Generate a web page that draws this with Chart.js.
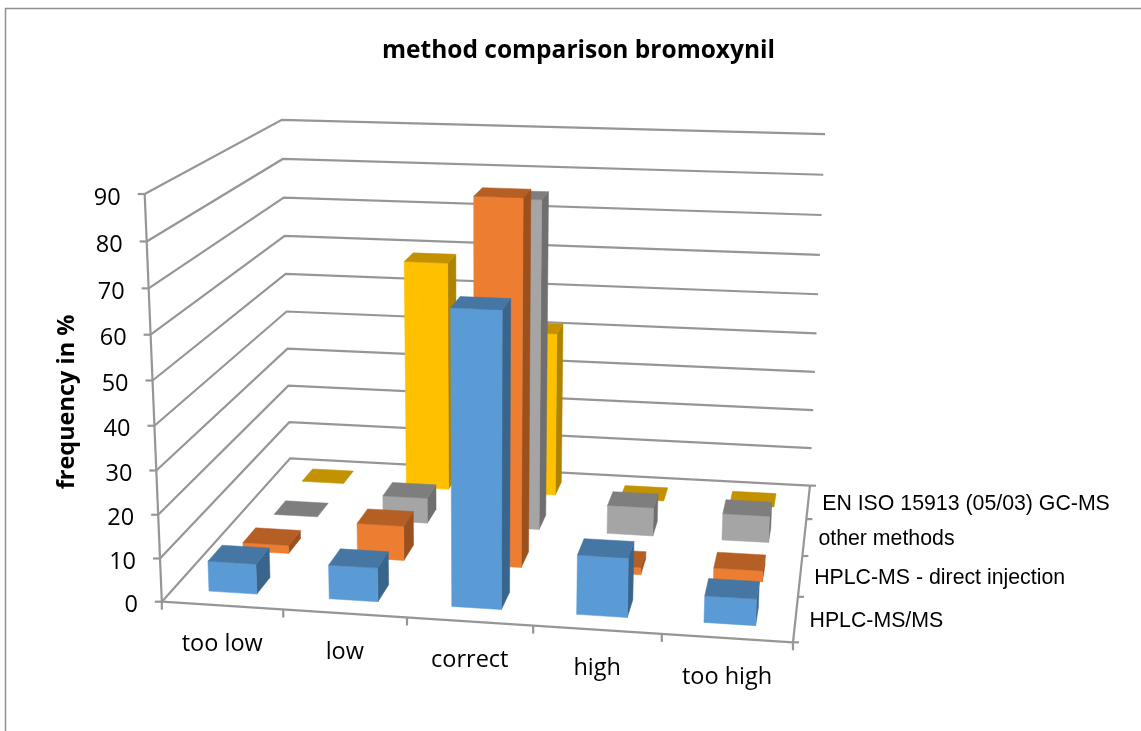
<!DOCTYPE html>
<html>
<head>
<meta charset="utf-8">
<title>method comparison bromoxynil</title>
<style>
  html, body { margin: 0; padding: 0; background: #fff; }
  canvas { display: block; }
</style>
<script src="https://cdn.jsdelivr.net/npm/chart.js@4"></script>
</head>
<body>
<canvas id="chart" width="1141" height="731"></canvas>
<script>
const titleText = 'method comparison bromoxynil';
const valueAxisTitle = 'frequency in %';
const categories = ['too low', 'low', 'correct', 'high', 'too high'];
const seriesNames = ['HPLC-MS/MS', 'HPLC-MS - direct injection', 'other methods', 'EN ISO 15913 (05/03) GC-MS'];
const valueTicks = [0, 10, 20, 30, 40, 50, 60, 70, 80, 90];

const hplcMsMs = [7, 7.8, 66.5, 13.5, 6];
const hplcDirect = [2, 8.3, 85.3, 1.7, 2.6];
const otherMethods = [0, 6.3, 80, 7, 6.5];
const enIso = [0, 58.5, 41.7, 0, 0];

const frontColors = ['#5B9BD5', '#ED7D31', '#A5A5A5', '#FFC000'];
const topColors = ['#4676A3', '#B55F25', '#7E7E7E', '#C39200'];
const sideColors = ['#39658D', '#9A511F', '#6F6F6F', '#AD8300'];

const lineColor = '#969696';
const labelFont = '"Open Sans"';
const seriesFont = '"Liberation Sans"';

// where the corners of the 3d box land on the page: [across, depth, up, pageX, pageY]
const boxCorners = [
  [0, 0, 0, 162, 602],
  [1, 0, 0, 793, 642],
  [1, 1, 0, 810, 486],
  [0, 1, 0, 290, 458],
  [0, 0, 1, 144.5, 194],
  [0, 1, 1, 282, 120],
  [1, 1, 1, 825, 134]
];

// least squares fit of the 3x4 projection matrix (last entry fixed to 1)
function fitProjection(points) {
  const n = 11;
  const A = [];
  for (let i = 0; i < n; i++) A.push(new Array(n + 1).fill(0));
  const addRow = (row, rhs) => {
    for (let i = 0; i < n; i++) {
      for (let j = 0; j < n; j++) A[i][j] += row[i] * row[j];
      A[i][n] += row[i] * rhs;
    }
  };
  points.forEach(([u, v, w, px, py]) => {
    const x = px / 1000, y = py / 1000;
    addRow([u, v, w, 1, 0, 0, 0, 0, -x * u, -x * v, -x * w], x);
    addRow([0, 0, 0, 0, u, v, w, 1, -y * u, -y * v, -y * w], y);
  });
  for (let c = 0; c < n; c++) {
    let best = c;
    for (let r = c + 1; r < n; r++) if (Math.abs(A[r][c]) > Math.abs(A[best][c])) best = r;
    [A[c], A[best]] = [A[best], A[c]];
    for (let r = 0; r < n; r++) {
      if (r === c) continue;
      const f = A[r][c] / A[c][c];
      for (let k = c; k <= n; k++) A[r][k] -= f * A[c][k];
    }
  }
  return A.map((row, i) => row[n] / row[i]);
}

const P = fitProjection(boxCorners);

function project(u, v, w) {
  const t = P[8] * u + P[9] * v + P[10] * w + 1;
  return {
    x: 1000 * (P[0] * u + P[1] * v + P[2] * w + P[3]) / t,
    y: 1000 * (P[4] * u + P[5] * v + P[6] * w + P[7]) / t
  };
}

// position along a hidden chart scale, 0..1
const acrossAt = (chart, i) => {
  const s = chart.scales.x;
  return (s.getPixelForValue(i) - s.left) / s.width;
};
const depthAt = (chart, i) => {
  const s = chart.scales.depth;
  return (s.getPixelForValue(i) - s.left) / s.width;
};
const upAt = (chart, value) => {
  const s = chart.scales.y;
  return (s.bottom - s.getPixelForValue(value)) / s.height;
};

function line(ctx, a, b) {
  ctx.beginPath();
  ctx.moveTo(a.x, a.y);
  ctx.lineTo(b.x, b.y);
  ctx.stroke();
}

function face(ctx, points, color) {
  ctx.fillStyle = color;
  ctx.strokeStyle = color;
  ctx.lineWidth = 0.5;
  ctx.beginPath();
  points.forEach((p, i) => (i ? ctx.lineTo(p.x, p.y) : ctx.moveTo(p.x, p.y)));
  ctx.closePath();
  ctx.fill();
  ctx.stroke();
}

function drawFrame(chart) {
  const ctx = chart.ctx;
  ctx.save();

  // outer chart border, only top and left show
  ctx.strokeStyle = '#909090';
  ctx.lineWidth = 1.5;
  ctx.beginPath();
  ctx.moveTo(5.5, 731);
  ctx.lineTo(5.5, 8.5);
  ctx.lineTo(1141, 8.5);
  ctx.stroke();

  ctx.strokeStyle = lineColor;
  ctx.lineWidth = 2.2;

  // value gridlines along the left wall and back wall
  valueTicks.forEach((tick) => {
    const w = upAt(chart, tick);
    const front = project(0, 0, w);
    const corner = project(0, 1, w);
    const end = project(1, 1, w);
    ctx.beginPath();
    ctx.moveTo(front.x, front.y);
    ctx.lineTo(corner.x, corner.y);
    ctx.lineTo(end.x, end.y);
    ctx.stroke();
    line(ctx, front, { x: front.x - 7, y: front.y });
  });

  // value axis and floor edges
  line(ctx, project(0, 0, 0), project(0, 0, 1));
  line(ctx, project(0, 0, 0), project(1, 0, 0));
  line(ctx, project(1, 0, 0), project(1, 1, 0));

  // category ticks under the front edge
  for (let i = 0; i <= categories.length; i++) {
    const p = project(i / categories.length, 0, 0);
    line(ctx, p, { x: p.x, y: p.y + 8 });
  }
  // series ticks on the right edge
  for (let i = 0; i <= seriesNames.length; i++) {
    const p = project(1, i / seriesNames.length, 0);
    line(ctx, p, { x: p.x + 6, y: p.y });
  }
  ctx.restore();
}

function drawSeries(chart, index) {
  const ctx = chart.ctx;
  const values = chart.data.datasets[index].data;
  const halfAcross = 0.2 / categories.length;
  const halfDepth = 0.2 / seriesNames.length;
  const v = depthAt(chart, index);
  const v0 = v - halfDepth, v1 = v + halfDepth;
  ctx.save();
  values.forEach((value, i) => {
    const u = acrossAt(chart, i);
    const u0 = u - halfAcross, u1 = u + halfAcross;
    const w = upAt(chart, value);
    if (value > 0) {
      face(ctx, [project(u1, v0, 0), project(u1, v1, 0), project(u1, v1, w), project(u1, v0, w)], sideColors[index]);
      face(ctx, [project(u0, v0, 0), project(u1, v0, 0), project(u1, v0, w), project(u0, v0, w)], frontColors[index]);
    }
    face(ctx, [project(u0, v0, w), project(u1, v0, w), project(u1, v1, w), project(u0, v1, w)], topColors[index]);
  });
  ctx.restore();
}

function drawLabels(chart) {
  const ctx = chart.ctx;
  ctx.save();
  ctx.fillStyle = '#000';
  ctx.textBaseline = 'middle';

  ctx.font = '23.5px ' + labelFont;
  ctx.textAlign = 'right';
  valueTicks.forEach((tick) => {
    const p = project(0, 0, upAt(chart, tick));
    ctx.fillText(String(tick), p.x - 24, p.y + 4);
  });

  ctx.textAlign = 'center';
  categories.forEach((name, i) => {
    const p = project(acrossAt(chart, i), 0, 0);
    ctx.fillText(name, p.x, p.y + 39);
  });

  ctx.font = '21.3px ' + seriesFont;
  ctx.textAlign = 'left';
  seriesNames.forEach((name, i) => {
    const p = project(1, depthAt(chart, i), 0);
    ctx.fillText(name, p.x + 14, p.y + 2);
  });

  ctx.font = 'bold 23.5px ' + labelFont;
  ctx.textAlign = 'center';
  ctx.translate(67, 402);
  ctx.rotate(-Math.PI / 2);
  ctx.fillText(valueAxisTitle, 0, 0);
  ctx.restore();
}

const box3d = {
  id: 'box3d',
  beforeDatasetsDraw(chart) {
    drawFrame(chart);
  },
  beforeDatasetDraw(chart, args) {
    drawSeries(chart, args.index);
    return false;
  },
  afterDatasetsDraw(chart) {
    drawLabels(chart);
  }
};

new Chart(document.getElementById('chart'), {
  type: 'bar',
  plugins: [box3d],
  data: {
    labels: categories,
    datasets: [
      { label: seriesNames[0], data: hplcMsMs, backgroundColor: frontColors[0] },
      { label: seriesNames[1], data: hplcDirect, backgroundColor: frontColors[1] },
      { label: seriesNames[2], data: otherMethods, backgroundColor: frontColors[2] },
      { label: seriesNames[3], data: enIso, backgroundColor: frontColors[3] }
    ]
  },
  options: {
    responsive: false,
    animation: false,
    layout: { padding: { left: 16 } },
    plugins: {
      legend: { display: false },
      tooltip: { enabled: false },
      title: {
        display: true,
        text: titleText,
        color: '#000',
        fullSize: false,
        font: { family: 'Open Sans', size: 24.5, weight: 'bold' },
        padding: { top: 36, bottom: 10 }
      }
    },
    scales: {
      x: { type: 'category', display: false, offset: true },
      depth: { type: 'category', axis: 'x', labels: seriesNames, display: false, offset: true },
      y: { type: 'linear', display: false, min: valueTicks[0], max: valueTicks[valueTicks.length - 1], ticks: { stepSize: 10 } }
    }
  }
});
</script>
</body>
</html>
